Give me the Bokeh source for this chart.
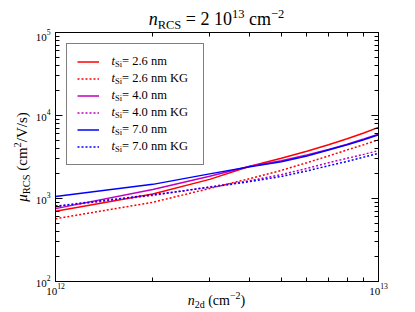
from bokeh.plotting import figure
from bokeh.layouts import column, row
from bokeh.models import (Range1d, FixedTicker, LogAxis, Legend, LegendItem, Label,
                          CustomJSTickFormatter, Div)
from bokeh.embed import file_html
from bokeh.resources import INLINE

# ---------------- data ----------------
n2d = [1e12, 2e12, 3e12, 4e12, 5e12, 6e12, 7e12, 8e12, 9e12, 1e13]
mu_t26 = [700, 1130, 1700, 2450, 3050, 3700, 4450, 5250, 6150, 7200]
mu_t26_kg = [570, 900, 1320, 1740, 2180, 2700, 3250, 3850, 4450, 5100]
mu_t40 = [755, 1280, 1850, 2450, 2850, 3350, 3900, 4500, 5200, 5950]
mu_t40_kg = [795, 1090, 1380, 1640, 1940, 2300, 2700, 3050, 3400, 3780]
mu_t70 = [1060, 1480, 1980, 2420, 2780, 3250, 3850, 4450, 5100, 5850]
mu_t70_kg = [810, 1110, 1360, 1600, 1840, 2150, 2480, 2800, 3150, 3500]

thickness = ["2.6", "4.0", "7.0"]
x_major = [1e12, 1e13]
x_minor = [m * 1e12 for m in range(2, 10)]
y_major = [1e2, 1e3, 1e4, 1e5]
y_minor = [m * 10 ** e for e in (2, 3, 4) for m in range(2, 10)]

FONT = "Liberation Serif"
FW, FH = 323, 249
TITLE_H = 28
YLAB_W = 30
PLOT_H = 4 + FH + 20
XLAB_H = 312 - TITLE_H - PLOT_H

p = figure(width=415 - YLAB_W, height=PLOT_H, x_axis_type="log", y_axis_type="log",
           x_range=Range1d(1e12, 1e13), y_range=Range1d(1e2, 1e5),
           output_backend="svg", toolbar_location=None, title=None,
           min_border_left=55 - YLAB_W, min_border_right=415 - 378,
           min_border_top=4, min_border_bottom=20)
p.grid.visible = False
p.outline_line_color = "black"
p.background_fill_color = "white"
p.border_fill_color = "white"

def style_axis(ax, labels=True):
    ax.axis_line_color = "black"
    ax.major_tick_line_color = "black"
    ax.minor_tick_line_color = "black"
    ax.major_tick_in = 7
    ax.major_tick_out = 0
    ax.minor_tick_in = 4
    ax.minor_tick_out = 0
    ax.major_label_text_font = FONT
    ax.major_label_text_color = "black"
    ax.major_label_text_font_size = "11px"
    if not labels:
        ax.formatter = CustomJSTickFormatter(code="return '';")
        ax.major_label_standoff = 0

p.xaxis.ticker = FixedTicker(ticks=x_major, minor_ticks=x_minor)
p.yaxis.ticker = FixedTicker(ticks=y_major, minor_ticks=y_minor)
style_axis(p.xaxis[0])
style_axis(p.yaxis[0])
p.xaxis.major_label_standoff = 2
p.yaxis.major_label_standoff = 5

top = LogAxis(ticker=FixedTicker(ticks=x_major, minor_ticks=x_minor))
style_axis(top, labels=False)
p.add_layout(top, "above")
right = LogAxis(ticker=FixedTicker(ticks=y_major, minor_ticks=y_minor))
style_axis(right, labels=False)
p.add_layout(right, "right")

series = [
    (mu_t26, "#ff0000", "solid"), (mu_t26_kg, "#ff0000", "dotted"),
    (mu_t40, "#bf00bf", "solid"), (mu_t40_kg, "#bf00bf", "dotted"),
    (mu_t70, "#0000ff", "solid"), (mu_t70_kg, "#0000ff", "dotted"),
]
items = []
for ys, col, dash in series:
    r = p.line(n2d, ys, line_color=col, line_width=1.5,
               line_dash=("2 2" if dash == "dotted" else "solid"))
    items.append(LegendItem(label=" ", renderers=[r]))

legend = Legend(items=items, location="top_left", margin=11, padding=10, spacing=2,
                glyph_height=15, glyph_width=22, label_height=15, label_width=82,
                label_standoff=12, label_text_font_size="10px",
                border_line_color="black", border_line_width=1,
                background_fill_alpha=0)
p.add_layout(legend, "center")

# ---------------- legend texts (composed, inside the frame) ----------------
W = {" ": 250, "(": 333, ")": 333, "=": 564, ".": 250, "/": 278, "\u2212": 564,
     "a": 444, "c": 444, "d": 500, "m": 778, "n": 500, "s": 389, "t": 278, "i": 278,
     "C": 667, "G": 722, "K": 722, "R": 667, "S": 556, "V": 722, "\u03bc": 576}

def wid(s, size):
    return sum(W.get(ch, 500) for ch in s) / 1000.0 * size

def compose(pieces, x, y):
    pos = x
    for t, s, st, d in pieces:
        p.add_layout(Label(x=pos, y=y + d, x_units="screen", y_units="screen", text=t,
                           text_font=FONT, text_font_size=f"{s}px", text_font_style=st,
                           text_align="left", text_baseline="middle",
                           text_color="black", level="overlay"))
        pos += wid(t, s)

labels = []
for t in thickness:
    labels.append(" = %s nm" % t)
    labels.append(" = %s nm KG" % t)
for i, rest in enumerate(labels):
    yc = FH - (11 + 10 + 7.5 + 17 * i)
    compose([("t", 12.5, "italic", 0), ("Si", 8.5, "normal", -3), (rest, 12.5, "normal", 0)],
            56, yc)

# ---------------- title and axis labels as HTML text ----------------
CSS = [":host{overflow:visible !important;}"]
BASE = "position:absolute;white-space:nowrap;font-family:'Liberation Serif';color:#000;"
SUB = "position:relative;top:%dpx;font-size:%spx;"

title_html = (
    '<div style="position:relative;width:415px;height:%dpx;">' % TITLE_H +
    '<div style="' + BASE + 'left:216.5px;top:19.5px;transform:translate(-50%,-50%);'
    'font-size:18px;line-height:18px;">'
    '<i>n</i><span style="' + SUB % (4, "12.5") + '">RCS</span> = 2 10'
    '<span style="' + SUB % (-7, "12.5") + '">13</span> cm'
    '<span style="' + SUB % (-7, "12.5") + '">\u22122</span></div></div>')

xlab_html = (
    '<div style="position:relative;width:415px;height:%dpx;">' % XLAB_H +
    '<div style="' + BASE + 'left:216.5px;top:%.1fpx;transform:translate(-50%%,-50%%);'
    'font-size:14px;line-height:14px;">' % (300 - (TITLE_H + PLOT_H)) +
    '<i>n</i><span style="' + SUB % (3, "10") + '">2d</span> (cm'
    '<span style="' + SUB % (-6, "10") + '">\u22122</span>)</div></div>')

ylab_html = (
    '<div style="position:relative;width:%dpx;height:%dpx;">' % (YLAB_W, PLOT_H) +
    '<div style="' + BASE + 'left:23px;top:%.1fpx;transform:translate(-50%%,-50%%) rotate(-90deg);'
    'font-size:15px;line-height:15px;">' % (156.5 - TITLE_H) +
    '<i>\u03bc</i><span style="' + SUB % (3, "10.5") + '">RCS</span> (cm'
    '<span style="' + SUB % (-6, "10.5") + '">2</span>/V/s)</div></div>')

title_div = Div(text=title_html, width=415, height=TITLE_H, margin=0, stylesheets=CSS)
ylab_div = Div(text=ylab_html, width=YLAB_W, height=PLOT_H, margin=0, stylesheets=CSS)
xlab_div = Div(text=xlab_html, width=415, height=XLAB_H, margin=0, stylesheets=CSS)

layout = column(title_div, row(ylab_div, p, spacing=0), xlab_div, spacing=0)

open("out.html", "w").write(file_html(layout, INLINE))
